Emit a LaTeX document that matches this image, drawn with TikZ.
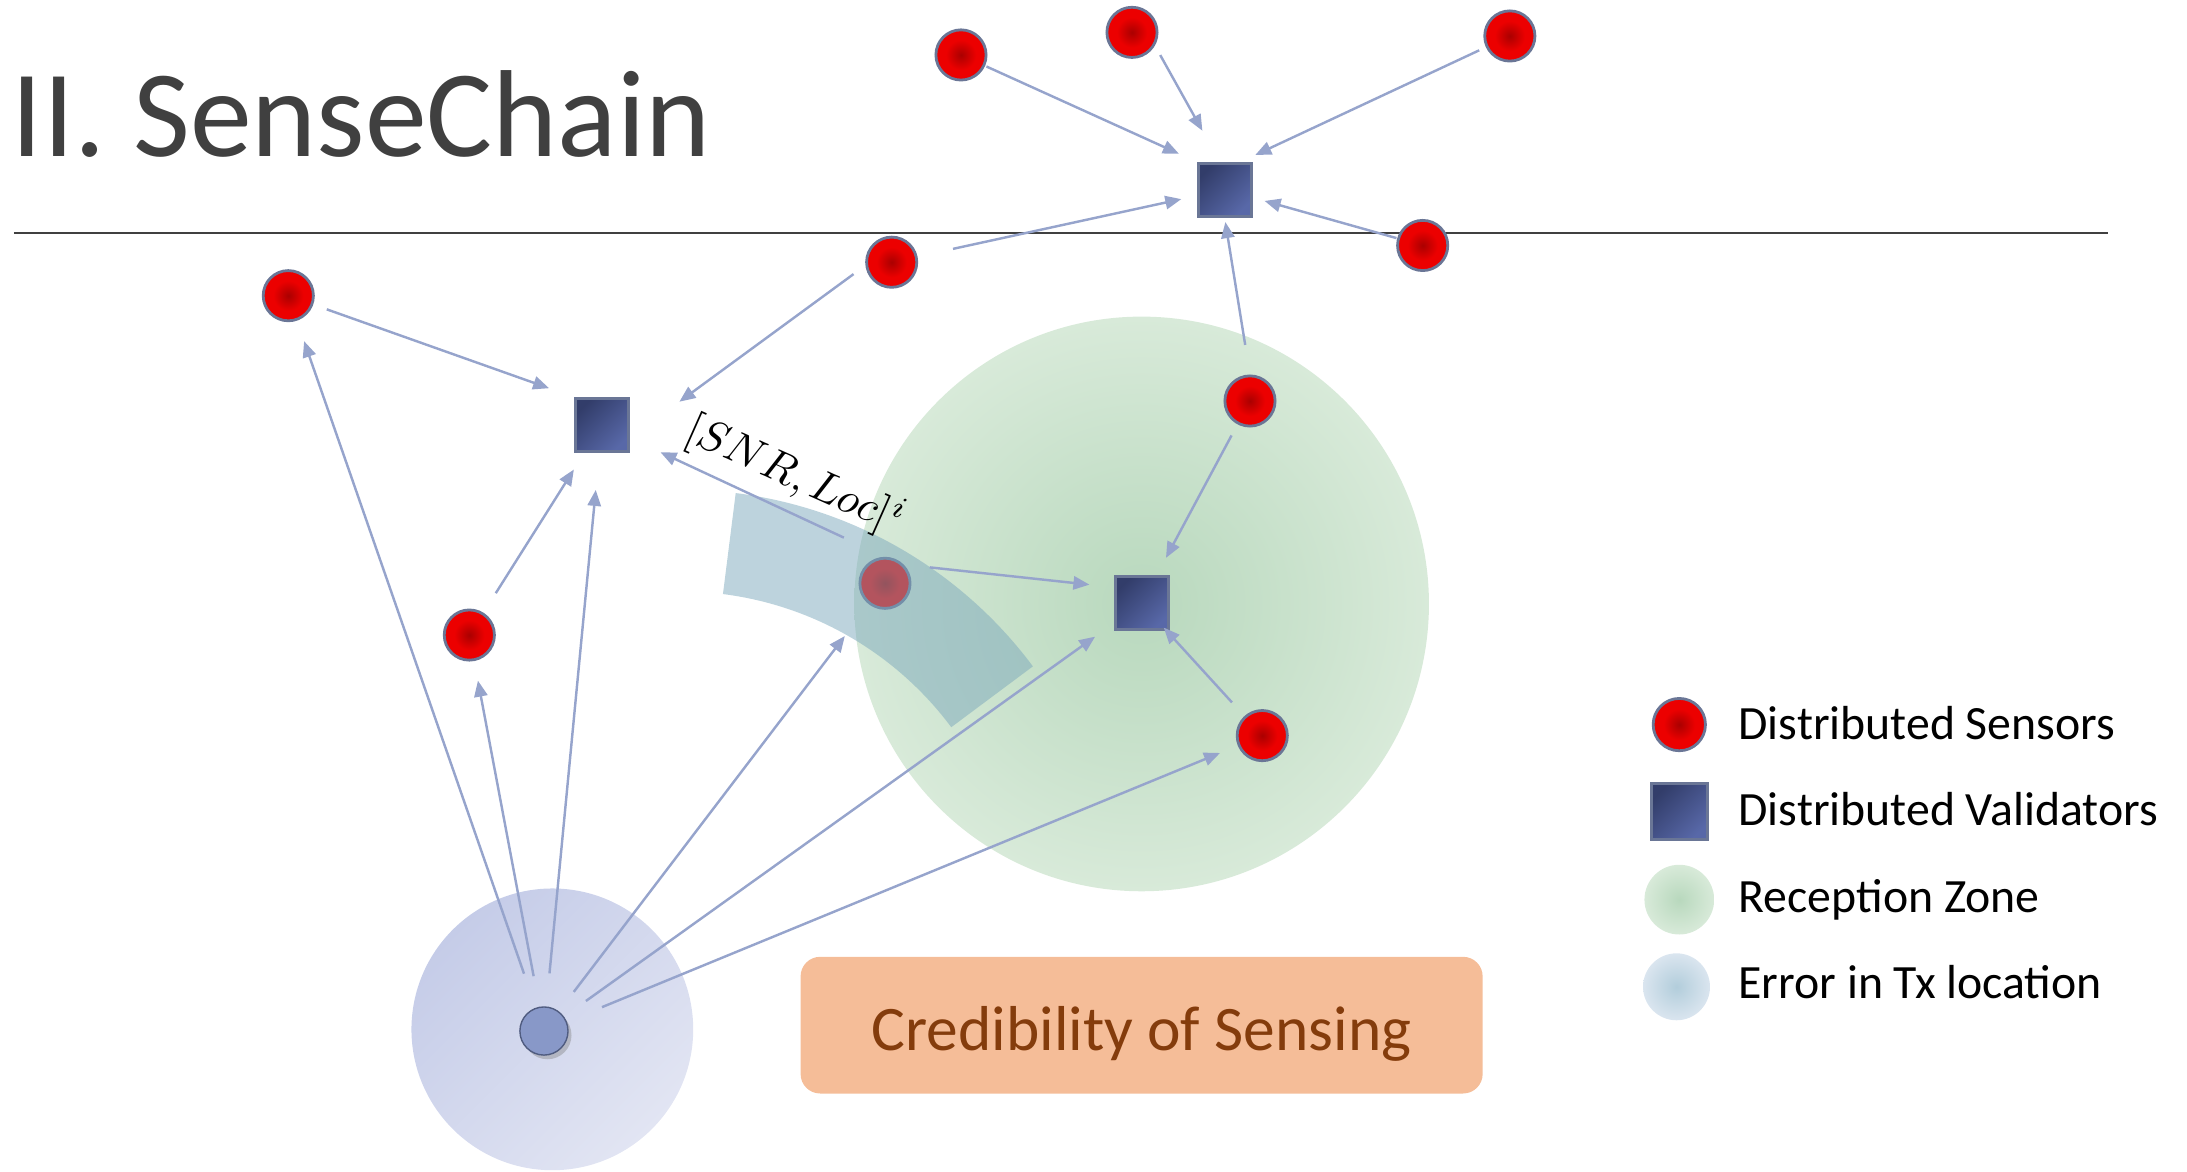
\documentclass[tikz,border=0pt]{standalone}
\usepackage{fontspec}
\setmainfont{Carlito}
\usepackage{graphicx}
\usetikzlibrary{arrows.meta,shadows,calc}

% palette
\definecolor{titlegray}{RGB}{64,64,64}
\definecolor{senDark}{RGB}{170,0,0}
\definecolor{senBright}{RGB}{236,0,0}
\definecolor{rimgray}{RGB}{106,118,150}
\definecolor{valDark}{RGB}{50,61,106}
\definecolor{valLight}{RGB}{88,104,168}
\definecolor{linkblue}{RGB}{150,164,204}
\definecolor{zoneIn}{RGB}{184,216,189}
\definecolor{zoneOut}{RGB}{216,234,217}
\definecolor{errIn}{RGB}{178,205,219}
\definecolor{errOut}{RGB}{218,229,239}
\definecolor{bandblue}{RGB}{124,168,188}
\definecolor{txzA}{RGB}{197,204,232}
\definecolor{txzB}{RGB}{226,229,243}
\definecolor{txfill}{RGB}{136,152,200}
\definecolor{txrim}{RGB}{80,92,128}
\definecolor{credfill}{RGB}{245,189,152}
\definecolor{credtext}{RGB}{132,60,12}

% radial fills for sensors and zones (the shaded path spans the inner 25bp radius)
\pgfdeclareradialshading{sensorball}{\pgfpoint{0bp}{0bp}}{color(0bp)=(senDark); color(15bp)=(senBright); color(25bp)=(senBright); color(50bp)=(senBright)}
\pgfdeclareradialshading{greenzone}{\pgfpoint{0bp}{0bp}}{color(0bp)=(zoneIn); color(25bp)=(zoneOut); color(50bp)=(zoneOut)}
\pgfdeclareradialshading{errzone}{\pgfpoint{0bp}{0bp}}{color(0bp)=(errIn); color(25bp)=(errOut); color(50bp)=(errOut)}

\tikzset{
  sensor/.style={circle, inner sep=0pt, minimum size=14.4pt, draw=rimgray, line width=0.8pt, shade, shading=sensorball},
  validator/.style={rectangle, inner sep=0pt, minimum size=15.2pt, draw=rimgray, line width=0.8pt,
    top color=valDark, bottom color=valLight, shading angle=45},
  link/.style={draw=linkblue, line width=0.7pt, -{Triangle[length=4.6pt, width=3.8pt]}},
  keytext/.style={anchor=base west, inner sep=0pt, font=\fontsize{13.7}{16}\selectfont},
}

\begin{document}
\begin{tikzpicture}[x=0.4pt, y=0.4pt]
\useasboundingbox (0,0) rectangle (1568,-840);
\clip (0,0) rectangle (1568,-840);

% reception zone and transmitter zone
\node[circle, inner sep=0pt, minimum size=164.8pt, shade, shading=greenzone] (zone) at (818.5,-433) {};
\node[circle, inner sep=0pt, minimum size=80.8pt, top color=txzA, bottom color=txzB, shading angle=45] (txzone) at (396,-738) {};

% title rule
\draw[titlegray, line width=0.6pt] (10,-167) -- (1511,-167);

% sensor lying under the location-error band
\node[sensor] (Si) at (634.5,-418.2) {};

% location-error band
\coordinate (arcC) at (488,-666);
\fill[bandblue, fill opacity=0.5]
  ($(arcC)+(36.7:315)$) arc[start angle=36.7, end angle=82.8, radius=315]
  -- ($(arcC)+(82.8:242)$) arc[start angle=82.8, end angle=36.7, radius=242] -- cycle;

% sensors
\node[sensor] (Sa) at (689,-39.4) {};
\node[sensor] (Sb) at (811.6,-23.2) {};
\node[sensor] (Sc) at (1082.5,-25.8) {};
\node[sensor] (Sd) at (639.3,-188) {};
\node[sensor] (Se) at (1020,-176) {};
\node[sensor] (Sf) at (896.2,-287.5) {};
\node[sensor] (Sg) at (206.7,-212) {};
\node[sensor] (Sh) at (336.5,-455.3) {};
\node[sensor] (Sj) at (905,-527.4) {};

% validators
\node[validator] (V1) at (878,-136) {};
\node[validator] (V2) at (431.6,-304.7) {};
\node[validator] (V3) at (818.5,-432.6) {};

% transmitter
\node[circle, inner sep=0pt, minimum size=13.8pt, fill=txfill, draw=txrim, line width=0.4pt,
  drop shadow={opacity=0.4, shadow xshift=1pt, shadow yshift=-1.2pt}] (tx) at (390,-739.2) {};

% reports to the top validator
\draw[link, shorten <=8pt, shorten >=5.6pt] (Sa.center) -- (V1.north west);
\draw[link, shorten <=3.1pt, shorten >=10.2pt] (Sb.-30) -- (V1.100);
\draw[link, shorten <=9.7pt, shorten >=4.6pt] (Sc.center) -- (V1.60);
\draw[link, shorten <=18pt, shorten >=12.7pt] (Sd.center) -- (V1.center);
\draw[link, shorten <=7.8pt, shorten >=11.9pt] (Se.center) -- (V1.center);
\draw[link, shorten <=8.6pt, shorten >=1.3pt] (Sf.north) -- (V1.south);

% reports to the left validator
\draw[link, shorten <=11.7pt, shorten >=7.6pt] (Sg.center) -- (V2.north west);
\draw[link, shorten <=4.2pt, shorten >=17.6pt] (Sd.187) -- (V2.-25);
\draw[link, shorten <=13pt, shorten >=18.5pt] (Si.north) -- (V2.center);
\draw[link, shorten <=14.2pt, shorten >=15.1pt] (Sh.center) -- (V2.center);

% reports to the lower validator
\draw[link, shorten <=7.5pt, shorten >=7pt] (Si.45) -- (V3.150);
\draw[link, shorten <=11.2pt, shorten >=14.8pt] (Sf.center) -- (V3.center);
\draw[link, shorten <=12.9pt, shorten >=9.4pt] (Sj.center) -- (V3.center);

% transmissions
\draw[link, shorten <=17.4pt, shorten >=13.8pt] (tx.center) -- (Sg.center);
\draw[link, shorten <=16pt, shorten >=13.3pt] (tx.center) -- (Sh.center);
\draw[link, shorten <=16.6pt, shorten >=18.7pt] (tx.center) -- (V2.center);
\draw[link, shorten <=14.1pt, shorten >=19pt] (tx.center) -- (Si.center);
\draw[link, shorten <=14.8pt, shorten >=16.4pt] (tx.center) -- (V3.center);
\draw[link, shorten <=18pt, shorten >=13.1pt] (tx.center) -- (Sj.center);

% report label
\node[rotate=-24, inner sep=0pt] (snr) at (570,-341) {\scalebox{1.27}{$[SNR,Loc]^{i}$}};

% title
\node[anchor=base west, inner sep=0pt, text=titlegray, font=\fontsize{35.5}{42}\selectfont] (title) at (8,-112) {II. SenseChain};

% caption box
\node[fill=credfill, rounded corners=5.6pt, minimum width=195.6pt, minimum height=39.2pt, inner sep=0pt,
  text=credtext, font=\fontsize{18.2}{22}\selectfont, text height=18pt, text depth=3.6pt] (cred) at (818.5,-735) {Credibility of Sensing};

% legend
\node[sensor, minimum size=15pt] (keyS) at (1204,-519.5) {};
\node[validator, minimum size=16pt] (keyV) at (1204,-582) {};
\node[circle, inner sep=0pt, minimum size=20pt, shade, shading=greenzone] (keyZ) at (1204,-645) {};
\node[circle, inner sep=0pt, minimum size=19.2pt, shade, shading=errzone] (keyE) at (1202,-707.5) {};
\node[keytext] (keySt) at (1246,-530.5) {Distributed Sensors};
\node[keytext] (keyVt) at (1246,-592) {Distributed Validators};
\node[keytext] (keyZt) at (1246,-654) {Reception Zone};
\node[keytext] (keyEt) at (1246,-715.6) {Error in Tx location};
\end{tikzpicture}
\end{document}
